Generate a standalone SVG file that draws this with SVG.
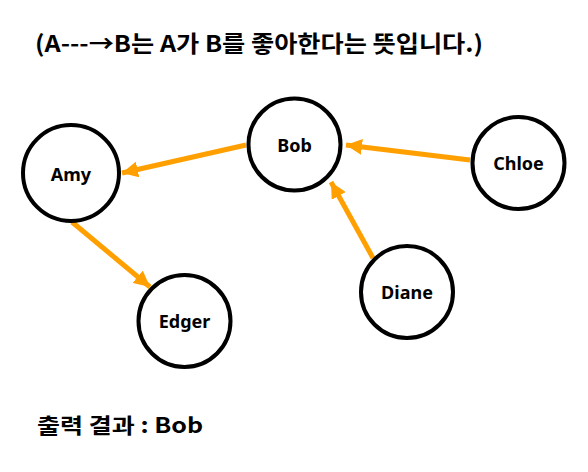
<svg xmlns="http://www.w3.org/2000/svg" width="588" height="472" viewBox="0 0 588 472">
<style>
.node{fill:#fff;stroke:#000;stroke-width:4}
.lbl{font-family:"Noto Sans","Noto Sans CJK KR",sans-serif;font-weight:bold;font-size:18px;text-anchor:middle;dominant-baseline:central;fill:#000}
.edge{stroke:#FFA000;stroke-width:5;fill:none;marker-end:url(#ah)}
.t{font-family:"Noto Sans CJK KR","Noto Sans",sans-serif;font-weight:bold;fill:#000}
</style>
<defs>
<marker id="ah" markerUnits="userSpaceOnUse" markerWidth="18" markerHeight="16" refX="16" refY="8" orient="auto">
<path d="M0,0 L16,8 L0,16 Z" fill="#FFA000"/>
</marker>
</defs>
<rect width="588" height="472" fill="#fff"/>
<text class="t" x="35" y="52" font-size="23" textLength="448" lengthAdjust="spacingAndGlyphs">(A---→B는 A가 B를 좋아한다는 뜻입니다.)</text>
<g id="connectors">
<line class="edge" x1="246" y1="145" x2="122" y2="173"/>
<line class="edge" x1="470" y1="160" x2="346" y2="145"/>
<line class="edge" x1="373" y1="258" x2="331" y2="182"/>
<line class="edge" x1="72" y1="222" x2="150" y2="287"/>
</g>
<g id="amy"><circle class="node" cx="71" cy="173" r="48"/><text class="lbl" x="71" y="174">Amy</text></g>
<g id="bob"><circle class="node" cx="294.5" cy="144.5" r="46"/><text class="lbl" x="294.5" y="145">Bob</text></g>
<g id="chloe"><circle class="node" cx="518.5" cy="163" r="46"/><text class="lbl" x="518.5" y="163">Chloe</text></g>
<g id="diane"><circle class="node" cx="407" cy="292" r="46"/><text class="lbl" x="407" y="292">Diane</text></g>
<g id="edger"><circle class="node" cx="184.5" cy="321" r="46"/><text class="lbl" x="184.5" y="321">Edger</text></g>
<text class="t" x="37" y="433" font-size="21" textLength="166" lengthAdjust="spacingAndGlyphs">출력 결과 : Bob</text>
</svg>
